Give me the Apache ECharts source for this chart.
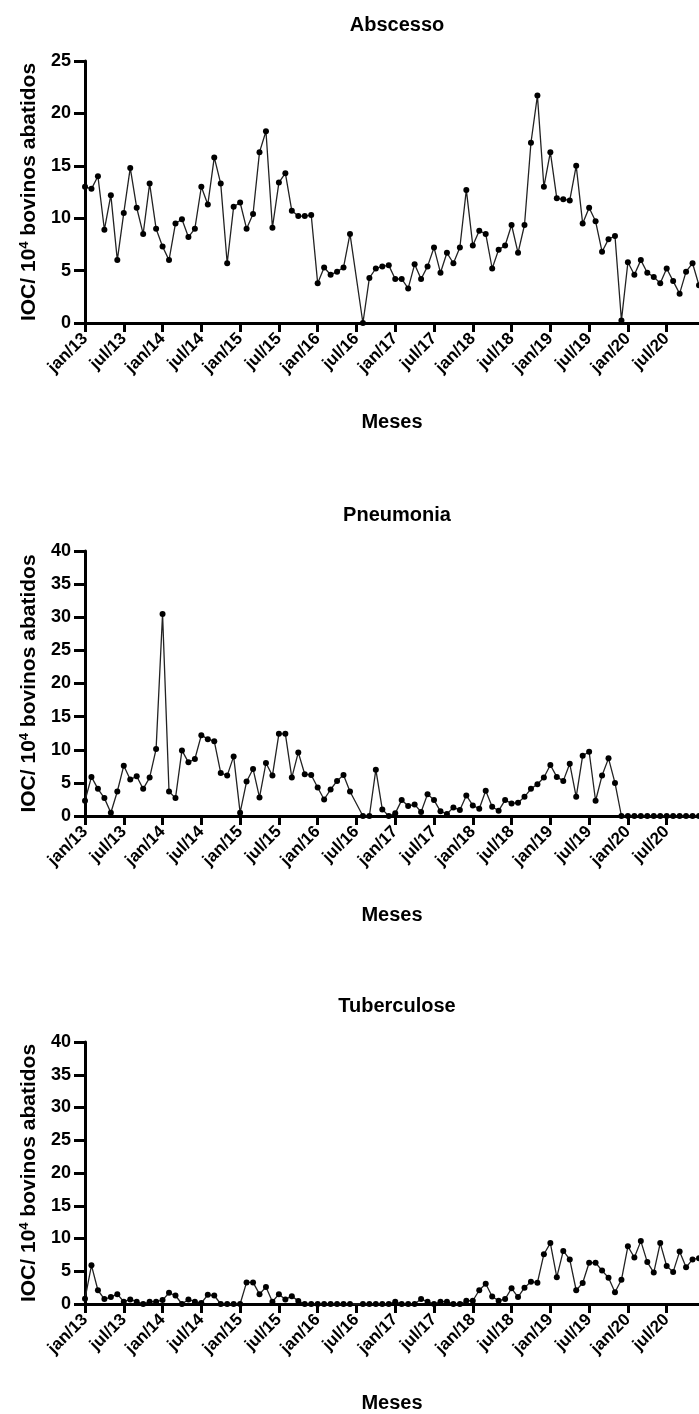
<!DOCTYPE html>
<html>
<head>
<meta charset="utf-8">
<script src="https://cdn.jsdelivr.net/npm/echarts@6/dist/echarts.min.js"></script>
<style>
  html, body { margin: 0; padding: 0; background: #fff; }
  #chart { width: 699px; height: 1414px; }
</style>
</head>
<body>
<div id="chart"></div>
<script>
const monthNames = ['jan', 'fev', 'mar', 'abr', 'mai', 'jun', 'jul', 'ago', 'set', 'out', 'nov', 'dez'];
const years = ['13', '14', '15', '16', '17', '18', '19', '20'];

const abscesso = [13.0, 12.8, 14.0, 8.9, 12.2, 6.0, 10.5, 14.8, 11.0, 8.5,
  13.3, 9.0, 7.3, 6.0, 9.5, 9.9, 8.2, 9.0, 13.0, 11.3,
  15.8, 13.3, 5.7, 11.1, 11.5, 9.0, 10.4, 16.3, 18.3, 9.1,
  13.4, 14.3, 10.7, 10.2, 10.2, 10.3, 3.8, 5.3, 4.6, 4.9,
  5.3, 8.5, null, 0, 4.3, 5.2, 5.4, 5.5, 4.2, 4.2,
  3.3, 5.6, 4.2, 5.4, 7.2, 4.8, 6.7, 5.7, 7.2, 12.7,
  7.4, 8.8, 8.5, 5.2, 7.0, 7.4, 9.35, 6.7, 9.35, 17.2,
  21.7, 13.0, 16.3, 11.9, 11.8, 11.7, 15.0, 9.5, 11.0, 9.7,
  6.8, 8.0, 8.3, 0.25, 5.8, 4.6, 6.0, 4.8, 4.4, 3.8,
  5.2, 4.0, 2.8, 4.9, 5.7, 3.6];

const pneumonia = [2.3, 5.9, 4.1, 2.7, 0.5, 3.7, 7.6, 5.5, 6.0, 4.1,
  5.8, 10.1, 30.5, 3.7, 2.7, 9.9, 8.1, 8.6, 12.2, 11.6,
  11.3, 6.5, 6.1, 9.0, 0.5, 5.2, 7.1, 2.8, 8.0, 6.1,
  12.4, 12.4, 5.8, 9.6, 6.3, 6.2, 4.3, 2.5, 4.0, 5.3,
  6.2, 3.7, null, 0, 0, 7.0, 1.0, 0, 0.4, 2.4,
  1.5, 1.75, 0.6, 3.3, 2.4, 0.7, 0.3, 1.3, 0.9, 3.1,
  1.6, 1.1, 3.8, 1.4, 0.8, 2.4, 1.9, 2.0, 2.9, 4.1,
  4.8, 5.8, 7.7, 5.9, 5.3, 7.9, 2.9, 9.1, 9.7, 2.3,
  6.1, 8.7, 5.0, 0, 0, 0, 0, 0, 0, 0,
  0, 0, 0, 0, 0, 0];

const tuberculose = [0.8, 5.9, 2.1, 0.75, 1.05, 1.5, 0.35, 0.7, 0.35, 0,
  0.35, 0.35, 0.6, 1.7, 1.3, 0, 0.7, 0.35, 0.15, 1.4,
  1.3, 0, 0, 0, 0, 3.3, 3.3, 1.5, 2.6, 0.35,
  1.5, 0.7, 1.2, 0.45, 0, 0, 0, 0, 0, 0,
  0, 0, null, 0, 0, 0, 0, 0, 0.35, 0,
  0, 0, 0.75, 0.35, 0, 0.35, 0.35, 0, 0, 0.5,
  0.5, 2.1, 3.1, 1.15, 0.5, 0.75, 2.4, 1.05, 2.5, 3.4,
  3.25, 7.6, 9.3, 4.1, 8.1, 6.8, 2.1, 3.2, 6.3, 6.3,
  5.1, 4.0, 1.8, 3.7, 8.8, 7.1, 9.6, 6.4, 4.8, 9.3,
  5.8, 4.9, 8.0, 5.6, 6.8, 7.0];

const titles = ['Abscesso', 'Pneumonia', 'Tuberculose'];
const yMax = [25, 40, 40];

// categorias mensais jan/13 .. dez/20
const categories = [];
years.forEach(y => monthNames.forEach(m => categories.push(m + '/' + y)));

const font = 'Liberation Sans';
const panels = [
  { top: 61, height: 262, titleTop: 10, data: abscesso },
  { top: 551, height: 265, titleTop: 500, data: pneumonia },
  { top: 1042, height: 264, titleTop: 991, data: tuberculose }
];

const option = {
  backgroundColor: '#fff',
  animation: false,
  title: panels.map((p, i) => ({
    text: titles[i],
    left: 392,
    textAlign: 'center',
    top: p.titleTop,
    textStyle: { fontFamily: font, fontSize: 20, fontWeight: 'bold', color: '#000' }
  })),
  grid: panels.map(p => ({ left: 85, right: 0, top: p.top, height: p.height })),
  xAxis: panels.map((p, i) => ({
    type: 'category',
    gridIndex: i,
    data: categories,
    boundaryGap: false,
    name: 'Meses',
    nameLocation: 'middle',
    nameGap: 89,
    nameTextStyle: { fontFamily: font, fontSize: 20, fontWeight: 'bold', color: '#000' },
    axisLine: { onZero: false, lineStyle: { color: '#000', width: 3 } },
    axisTick: { interval: 5, length: 9, lineStyle: { color: '#000', width: 3 } },
    axisLabel: {
      interval: 5, rotate: 45, margin: 13,
      fontFamily: font, fontSize: 17, fontWeight: 'bold', color: '#000'
    },
    splitLine: { show: false }
  })),
  yAxis: panels.map((p, i) => ({
    type: 'value',
    gridIndex: i,
    min: 0,
    max: yMax[i],
    interval: 5,
    name: '{n|IOC/ 10}{s|4}{n| bovinos abatidos}',
    nameLocation: 'middle',
    nameGap: 42,
    nameTextStyle: {
      color: '#000',
      rich: {
        n: { fontFamily: font, fontSize: 21, fontWeight: 'bold', color: '#000', lineHeight: 24 },
        s: { fontFamily: font, fontSize: 13, fontWeight: 'bold', color: '#000', verticalAlign: 'top', lineHeight: 24 }
      }
    },
    axisLine: { show: true, lineStyle: { color: '#000', width: 3 } },
    axisTick: { show: true, length: 11, lineStyle: { color: '#000', width: 3 } },
    axisLabel: { margin: 14, fontFamily: font, fontSize: 18, fontWeight: 'bold', color: '#000' },
    splitLine: { show: false }
  })),
  series: panels.map((p, i) => ({
    type: 'line',
    xAxisIndex: i,
    yAxisIndex: i,
    data: p.data,
    connectNulls: true,
    clip: false,
    showAllSymbol: true,
    symbol: 'circle',
    symbolSize: 6,
    itemStyle: { color: '#000' },
    lineStyle: { color: '#222', width: 1.3 },
    z: 5
  }))
};

const myChart = echarts.init(document.getElementById('chart'));
myChart.setOption(option);
</script>
</body>
</html>
